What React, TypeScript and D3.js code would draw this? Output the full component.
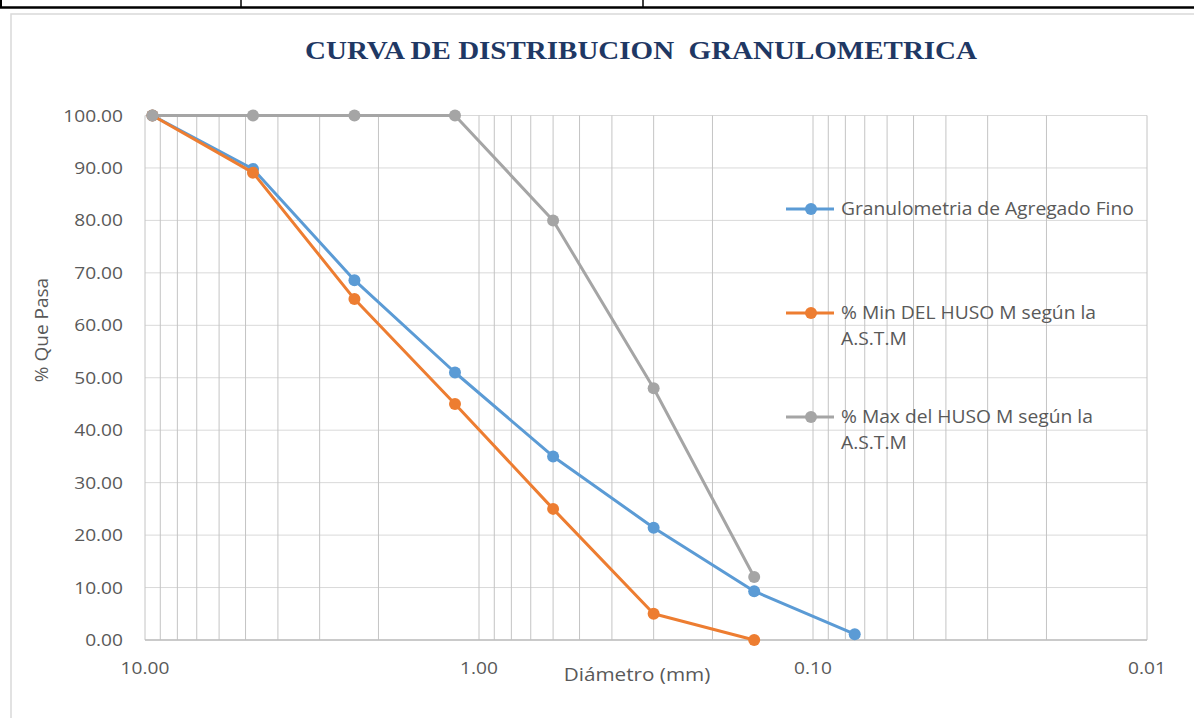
import React from 'react';
import * as d3 from 'd3';

const sieveSizes = [9.5, 4.75, 2.36, 1.18, 0.6, 0.3, 0.15, 0.075];
const granulometria = [100, 89.8, 68.6, 51.0, 35.0, 21.4, 9.3, 1.1];
const minHuso = [100, 89.1, 65.0, 45.0, 25.0, 5.0, 0.0];
const maxHuso = [100, 100, 100, 100, 80, 48, 12];
const seriesNames = ['Granulometria de Agregado Fino', '% Min DEL HUSO M según la|A.S.T.M', '% Max del HUSO M según la|A.S.T.M'];
const seriesColors = ['#5B9BD5', '#ED7D31', '#A5A5A5'];
const yTicks = [0, 10, 20, 30, 40, 50, 60, 70, 80, 90, 100];
const xTickValues = [10, 1, 0.1, 0.01];
const xTickLabels = ['10.00', '1.00', '0.10', '0.01'];
const title = 'CURVA DE DISTRIBUCION  GRANULOMETRICA';

const W = 1194, H = 718;
const plot = { left: 145, right: 1147, top: 115.5, bottom: 640 };
const textColor = '#595959';
const sans = '"Open Sans", "Liberation Sans", sans-serif';

export default function App() {
  const x = d3.scaleLog().domain([10, 0.01]).range([plot.left, plot.right]);
  const y = d3.scaleLinear().domain([0, 100]).range([plot.bottom, plot.top]);

  const minor: number[] = [];
  [1, 0.1, 0.01].forEach((d) => {
    for (let k = 1; k <= 9; k++) minor.push(k * d);
  });
  minor.push(10);

  const series = [granulometria, minHuso, maxHuso].map((vals) =>
    vals.map((v, i) => [sieveSizes[i], v] as [number, number])
  );
  const line = d3.line<[number, number]>().x((d) => x(d[0])).y((d) => y(d[1]));

  const legendY = [209, 313, 417];

  return (
    <svg width={W} height={H} style={{ position: 'absolute', left: 0, top: 0, background: '#fff' }}>
      {/* table fragment at top */}
      <line x1={0} x2={W} y1={7.5} y2={7.5} stroke="#000" strokeWidth={2.5} />
      <line x1={1} x2={1} y1={0} y2={8} stroke="#000" strokeWidth={2} />
      <line x1={241} x2={241} y1={0} y2={8} stroke="#000" strokeWidth={1.5} />
      <line x1={643} x2={643} y1={0} y2={8} stroke="#000" strokeWidth={1.5} />
      {/* chart border */}
      <rect x={11} y={14} width={W + 10} height={H + 10} fill="#fff" stroke="#D9D9D9" strokeWidth={1.5} />

      <text
        x={305}
        y={59}
        fontFamily='"Liberation Serif", "Times New Roman", serif'
        fontWeight="bold"
        fontSize={25}
        fill="#1F3864"
        textLength={672}
        lengthAdjust="spacingAndGlyphs"
        style={{ whiteSpace: 'pre' }}
      >
        {title}
      </text>

      {/* horizontal grid */}
      {yTicks.map((t) => (
        <line key={'h' + t} x1={plot.left} x2={plot.right} y1={y(t)} y2={y(t)} stroke="#D9D9D9" strokeWidth={1} />
      ))}
      {/* vertical grid */}
      {minor.map((v) => (
        <line key={'v' + v} x1={x(v)} x2={x(v)} y1={plot.top} y2={plot.bottom} stroke="#C4C4C4" strokeWidth={1} />
      ))}
      <line x1={plot.left} x2={plot.right} y1={plot.bottom} y2={plot.bottom} stroke="#BFBFBF" strokeWidth={1.5} />

      {/* y tick labels */}
      {yTicks.map((t) => (
        <text
          key={'yt' + t}
          transform={`translate(123,${y(t) + 6}) scale(1.16,1)`}
          textAnchor="end"
          fontFamily={sans}
          fontSize={16.5}
          fill={textColor}
        >
          {t.toFixed(2)}
        </text>
      ))}
      {/* x tick labels */}
      {xTickValues.map((v, i) => (
        <text
          key={'xt' + v}
          transform={`translate(${x(v)},${674}) scale(1.16,1)`}
          textAnchor="middle"
          fontFamily={sans}
          fontSize={16.5}
          fill={textColor}
        >
          {xTickLabels[i]}
        </text>
      ))}

      {/* axis titles */}
      <text
        transform={`translate(637,681) scale(1.15,1)`}
        textAnchor="middle"
        fontFamily={sans}
        fontSize={18}
        fill={textColor}
      >
        Diámetro (mm)
      </text>
      <text
        transform={`translate(48,330) rotate(-90)`}
        textAnchor="middle"
        fontFamily={sans}
        fontSize={19}
        fill={textColor}
      >
        % Que Pasa
      </text>

      {/* series */}
      {series.map((s, si) => (
        <g key={'s' + si}>
          <path d={line(s) || ''} fill="none" stroke={seriesColors[si]} strokeWidth={3} strokeLinejoin="round" />
          {s.map((p, pi) => (
            <circle key={pi} cx={x(p[0])} cy={y(p[1])} r={6} fill={seriesColors[si]} />
          ))}
        </g>
      ))}

      {/* legend */}
      {seriesNames.map((name, i) => (
        <g key={'lg' + i}>
          <line x1={786} x2={834} y1={legendY[i]} y2={legendY[i]} stroke={seriesColors[i]} strokeWidth={3} />
          <circle cx={811} cy={legendY[i]} r={6} fill={seriesColors[i]} />
          {name.split('|').map((ln, li) => (
            <text
              key={li}
              transform={`translate(841,${legendY[i] + 6 + li * 25.5}) scale(1.1,1)`}
              fontFamily={sans}
              fontSize={17.5}
              fill={textColor}
            >
              {ln}
            </text>
          ))}
        </g>
      ))}
    </svg>
  );
}
